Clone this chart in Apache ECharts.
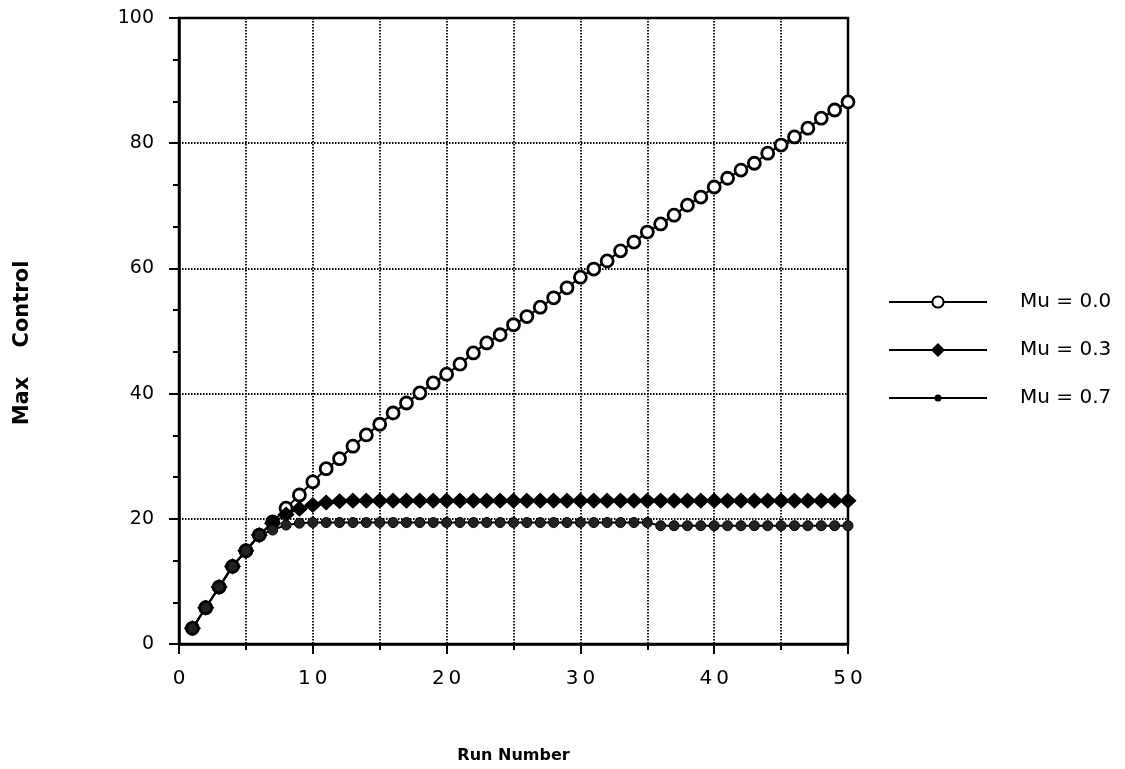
<!DOCTYPE html>
<html>
<head>
<meta charset="utf-8">
<script src="https://cdn.jsdelivr.net/npm/echarts@6/dist/echarts.min.js"></script>
<style>
html,body{margin:0;padding:0;background:#fff;}
#main{width:1125px;height:769px;}
</style>
</head>
<body>
<div id="main"></div>
<script>
// run numbers (x axis)
var runs=[1,2,3,4,5,6,7,8,9,10,11,12,13,14,15,16,17,18,19,20,21,22,23,24,25,
	26,27,28,29,30,31,32,33,34,35,36,37,38,39,40,41,42,43,44,45,46,47,48,49,50];
// Max Control for each mu
var mu00=[2.5,5.8,9.1,12.4,14.9,17.4,19.5,21.7,23.8,25.9,28.0,29.6,31.6,33.4,35.1,36.9,38.5,40.1,41.7,43.1,
	44.7,46.5,48.1,49.4,51.0,52.3,53.8,55.3,56.9,58.6,59.9,61.2,62.8,64.2,65.8,67.1,68.5,70.1,71.4,73.0,
	74.4,75.7,76.8,78.4,79.7,81.0,82.4,84.0,85.3,86.6];
var mu03=[2.5,5.8,9.1,12.4,14.9,17.4,19.3,20.7,21.6,22.2,22.6,22.8,22.9,22.9,22.9,22.9,22.9,22.9,22.9,22.9,
	22.9,22.9,22.9,22.9,22.9,22.9,22.9,22.9,22.9,22.9,22.9,22.9,22.9,22.9,22.9,22.9,22.9,22.9,22.9,22.9,
	22.9,22.9,22.9,22.9,22.9,22.9,22.9,22.9,22.9,22.9];
var mu07=[2.5,5.8,9.1,12.4,14.9,17.4,18.2,19.0,19.3,19.4,19.4,19.4,19.4,19.4,19.4,19.4,19.4,19.4,19.4,19.4,
	19.4,19.4,19.4,19.4,19.4,19.4,19.4,19.4,19.4,19.4,19.4,19.4,19.4,19.4,19.4,18.9,18.9,18.9,18.9,18.9,
	18.9,18.9,18.9,18.9,18.9,18.9,18.9,18.9,18.9,18.9];
var names=['Mu = 0.0','Mu = 0.3','Mu = 0.7'];
var xTicks=[0,10,20,30,40,50];
var yTicks=[0,20,40,60,80,100];

function pairs(ys){
	var out=[];
	for(var i=0;i<runs.length;i++){ out.push([runs[i],ys[i]]); }
	return out;
}

var font='"DejaVu Sans", Verdana, sans-serif';
var dotted={color:'#000',width:1.8,type:[1.5,1.5]};
// legend icon for Mu = 0.7: line with a small dot (default legend dot is too big)
var smallDotIcon='path://M0,0 M98,14 M0,6 L98,6 L98,8 L0,8 Z M49,3.5 A3.5,3.5 0 1 1 49,10.5 A3.5,3.5 0 1 1 49,3.5 Z';

var myChart=echarts.init(document.getElementById('main'));
var option={
	backgroundColor:'#fff',
	animation:false,
	grid:{left:179,right:277,top:18,bottom:125,show:true,borderColor:'#000',borderWidth:2.5,backgroundColor:'transparent'},
	legend:{
		orient:'vertical',left:883,top:287,
		itemWidth:98,itemHeight:14,itemGap:28,
		data:[{name:names[0]},{name:names[1]},{name:names[2],icon:smallDotIcon,itemStyle:{color:'#000',borderWidth:0}}],
		textStyle:{fontFamily:font,fontSize:20,color:'#000',padding:[0,0,0,28]}
	},
	xAxis:{
		type:'value',min:0,max:50,interval:10,
		name:'Run Number',nameLocation:'middle',nameGap:104,
		nameTextStyle:{fontFamily:font,fontSize:16,fontWeight:'bold',color:'#000'},
		axisLine:{lineStyle:{color:'#000',width:2.5}},
		axisTick:{show:true,length:10,lineStyle:{color:'#000',width:2}},
		minorTick:{show:true,splitNumber:2,length:6,lineStyle:{color:'#000',width:2}},
		splitLine:{show:true,lineStyle:dotted},
		minorSplitLine:{show:true,lineStyle:dotted},
		axisLabel:{margin:25,fontFamily:font,fontSize:20,color:'#000',
			formatter:function(v){
				if(xTicks.indexOf(v)<0) return '';
				return String(v).split('').join('\u2009');
			}}
	},
	yAxis:{
		type:'value',min:0,max:100,interval:20,
		name:'Max    Control',nameLocation:'middle',nameGap:146,
		nameTextStyle:{fontFamily:font,fontSize:21,fontWeight:'bold',color:'#000',padding:[0,24,0,0]},
		axisLine:{lineStyle:{color:'#000',width:2.5}},
		axisTick:{show:true,length:10,lineStyle:{color:'#000',width:2}},
		minorTick:{show:true,splitNumber:3,length:6,lineStyle:{color:'#000',width:2}},
		splitLine:{show:true,lineStyle:dotted},
		axisLabel:{margin:25,fontFamily:font,fontSize:19,color:'#000',
			formatter:function(v){ return yTicks.indexOf(v)<0?'':String(v); }}
	},
	series:[
		{
			name:names[0],type:'line',data:pairs(mu00),
			symbol:'circle',symbolSize:12,
			lineStyle:{color:'#000',width:2},
			itemStyle:{color:'#fff',borderColor:'#000',borderWidth:2.8}
		},
		{
			name:names[1],type:'line',data:pairs(mu03),
			symbol:'diamond',symbolSize:[15,14],
			lineStyle:{color:'#000',width:2},
			itemStyle:{color:'#000',borderColor:'#000',borderWidth:1.5}
		},
		{
			name:names[2],type:'line',data:pairs(mu07),
			symbol:'circle',symbolSize:10,
			lineStyle:{color:'#000',width:2},
			itemStyle:{color:'#222',borderColor:'#000',borderWidth:1}
		}
	]
};
myChart.setOption(option);
</script>
</body>
</html>
